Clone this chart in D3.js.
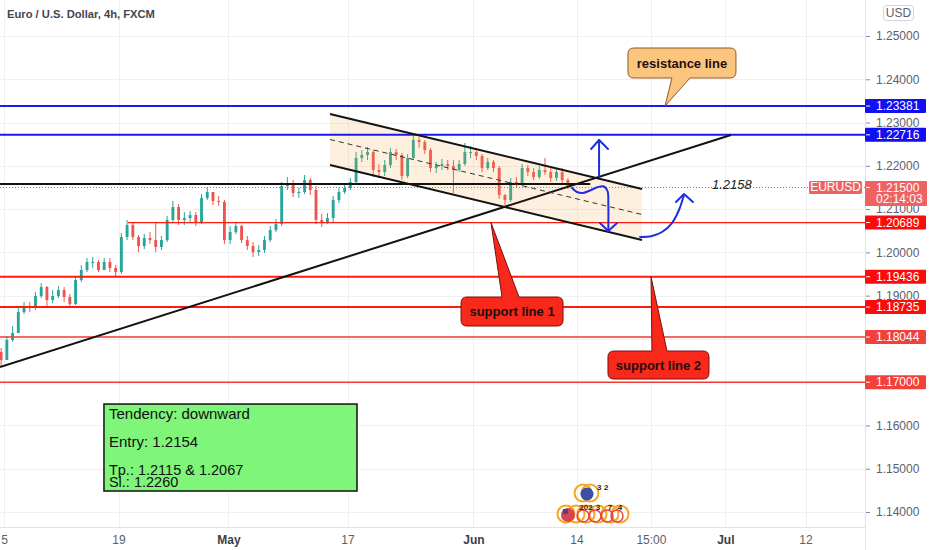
<!DOCTYPE html>
<html><head><meta charset="utf-8">
<script src="https://cdn.jsdelivr.net/npm/d3@7/dist/d3.min.js"></script>
<style>html,body{margin:0;padding:0;background:#fff;} svg{display:block;font-family:"Liberation Sans",Arial,sans-serif;}</style>
</head><body>
<svg id="c" width="932" height="550"></svg>
<script>
// ---------------- DATA ----------------
const title = "Euro / U.S. Dollar, 4h, FXCM";
const firstOpen = 1.17697;
// half-day bars, day index counted in trading days from Apr 5
const barStartDay = -0.25, barStepDay = 0.5;
const closes = [1.17512,1.17974,1.18136,1.18621,1.18737,1.18714,1.18991,1.19199,1.18899,1.18991,
1.19130,1.18968,1.18806,1.19361,1.19592,1.19777,1.19777,1.19592,1.19777,1.19638,
1.19546,1.20355,1.20632,1.20355,1.20147,1.20332,1.20285,1.20124,1.20285,1.20748,
1.21048,1.20748,1.20794,1.20863,1.20701,1.21256,1.21395,1.21187,1.21164,1.20285,
1.20470,1.20609,1.20285,1.20147,1.20008,1.20054,1.20285,1.20516,1.20655,1.21533,
1.21603,1.21372,1.21395,1.21672,1.21441,1.20748,1.20701,1.20794,1.21210,1.21395,
1.21487,1.21626,1.22180,1.22250,1.22319,1.21903,1.21857,1.22019,1.22319,1.22250,
1.21764,1.22180,1.22596,1.22550,1.22365,1.21949,1.21996,1.22042,1.21996,1.21903,
1.22042,1.22319,1.22319,1.22227,1.21949,1.22088,1.21949,1.21325,1.21210,1.21626,
1.21603,1.21949,1.21857,1.21741,1.21903,1.21857,1.21718,1.21857,1.21672,1.21500];
const highs = [1.17789,1.18067,1.18298,1.18714,1.18853,1.18853,1.19084,1.19292,1.19222,1.19130,
1.19222,1.19199,1.19037,1.19453,1.19708,1.19869,1.19893,1.19823,1.19869,1.19869,
1.19708,1.20447,1.20748,1.20701,1.20401,1.20424,1.20470,1.20678,1.20378,1.20840,
1.21187,1.21117,1.20933,1.20956,1.20933,1.21349,1.21510,1.21372,1.21302,1.21210,
1.20609,1.20701,1.20632,1.20378,1.20239,1.20170,1.20378,1.20609,1.20771,1.21626,
1.21741,1.21672,1.21487,1.21788,1.21718,1.21533,1.20886,1.20909,1.21302,1.21487,
1.21580,1.21718,1.22319,1.22365,1.22435,1.22365,1.22042,1.22134,1.22412,1.22388,
1.22296,1.22273,1.22689,1.22666,1.22596,1.22412,1.22088,1.22157,1.22134,1.22134,
1.22134,1.22527,1.22458,1.22412,1.22273,1.22180,1.22134,1.21996,1.21349,1.21718,
1.21741,1.22042,1.22019,1.21949,1.21996,1.22180,1.21949,1.21949,1.21949,1.21718];
const lows = [1.17373,1.17697,1.17928,1.18136,1.18575,1.18621,1.18668,1.18945,1.18737,1.18829,
1.18945,1.18853,1.18737,1.18783,1.19315,1.19546,1.19638,1.19546,1.19592,1.19546,
1.19453,1.19500,1.20285,1.20285,1.20008,1.20077,1.20193,1.20008,1.20054,1.20239,
1.20701,1.20632,1.20632,1.20701,1.20609,1.20655,1.21210,1.21094,1.21071,1.20193,
1.20193,1.20424,1.20216,1.20054,1.19893,1.19916,1.19985,1.20239,1.20470,1.20609,
1.21441,1.21279,1.21256,1.21349,1.21325,1.20655,1.20586,1.20655,1.20701,1.21141,
1.21349,1.21441,1.21580,1.22088,1.22134,1.21741,1.21718,1.21764,1.21949,1.22134,
1.21672,1.21718,1.22134,1.22412,1.22273,1.21857,1.21834,1.21903,1.21903,1.21372,
1.21857,1.21996,1.22180,1.22134,1.21857,1.21903,1.21857,1.21233,1.21094,1.21164,
1.21510,1.21533,1.21764,1.21672,1.21695,1.21788,1.21626,1.21649,1.21603,1.21464];

const priceTicks = [1.14,1.15,1.16,1.17,1.18,1.19,1.20,1.21,1.22,1.23,1.24,1.25];
const timeTickDays = [0,10,19.6,30,41,50,56.5,63,70];
const timeTickLabels = ["5","19","May","17","Jun","14","15:00","Jul","12"];
const monthLabels = ["May","Jun","Jul"];

const currentPrice = 1.21500;
const countdown = "02:14:03";
const symbolName = "EURUSD";
const levelPrices = [1.23381,1.22716,1.20689,1.19436,1.18735,1.18044,1.17000];
const levelStartDays = [-1,-1,10.83,-1,-1,-1,-1];

// drawings, in (trading day, price)
const trendLine = [[-0.35,1.17350],[63.49,1.22712]];
const markLine = [[-0.35,1.2158],[51.2,1.2158]];
const markLabel = {day:61.83, price:1.2158, text:"1.2158"};
const channelUpper = [[28.47,1.23197],[55.72,1.21464]];
const channelLower = [[28.47,1.22019],[55.72,1.20285]];
const upShaft = [[51.97,1.21765],[51.97,1.22597]];
const upHead = [[51.27,1.22389],[51.97,1.22597],[52.75,1.22389]];
const downCurve = [[49.61,1.21487],[50.04,1.21395],[50.57,1.21372],[51.27,1.21441],[51.88,1.21510],[52.40,1.21522],[52.71,1.21418],[52.78,1.21094],[52.78,1.20493]];
const downHead = [[52.05,1.20678],[52.78,1.20493],[53.54,1.20678]];
const rightCurve = [[55.55,1.20355],[56.59,1.20378],[57.47,1.20470],[58.34,1.20678],[58.95,1.20979],[59.39,1.21325]];
const rightHead = [[58.69,1.21164],[59.39,1.21349],[60.17,1.21164]];

const calloutTexts = ["resistance line","support line 1","support line 2"];
const calloutCenters = [[59.21,1.24376],[44.37,1.18633],[57.16,1.17397]];
const calloutTips = [[57.73,1.23381],[42.53,1.20689],[56.51,1.19436]];

const noteLines = ["Tendency: downward","Entry: 1.2154","Tp.: 1.2115 & 1.2067","Sl.: 1.2260"];
const noteCorners = [[8.73,1.16495],[30.83,1.14485]];

const eventRow1Days = [50.57,51.18];
const eventRow1Labels = ["3","2"];
const eventRow2Days = [48.73,49.61,50.48,51.53,52.58,53.45];
const eventRow2Labels = ["","","202","3","7","4"];

// ---------------- STYLE ----------------
const W = 932, H = 550, plotR = 865, plotB = 527;
const upColor = "#26a69a", downColor = "#ef5350";
const levelStyle = [
  {c:"#1a1aef", w:2}, {c:"#1a1aef", w:2}, {c:"#ff1a10", w:1.2},
  {c:"#ff1a10", w:2}, {c:"#ff1a10", w:2}, {c:"#f23a30", w:1.5}, {c:"#f23a30", w:1.5}];
const boxColors = ["#1010f0","#1010f0","#ff0a0a","#ff0a0a","#ff0a0a","#f2413a","#f2413a"];
const blue = "#1f2fe0";

const svg = d3.select("#c");
const x = d3.scaleLinear().domain([0,70]).range([4,805.5]);
const y = d3.scaleLinear().domain([1.14,1.25]).range([512,36]);

svg.append("rect").attr("width",W).attr("height",H).attr("fill","#fff");
svg.append("defs").append("clipPath").attr("id","plot")
  .append("rect").attr("x",0).attr("y",0).attr("width",plotR).attr("height",plotB);

const plot = svg.append("g").attr("clip-path","url(#plot)");

// grid
plot.selectAll(".hg").data(priceTicks).join("line")
  .attr("x1",0).attr("x2",plotR).attr("y1",d=>Math.round(y(d))+0.5).attr("y2",d=>Math.round(y(d))+0.5)
  .attr("stroke","#eef0f4").attr("stroke-width",1);
plot.selectAll(".vg").data(timeTickDays).join("line")
  .attr("y1",0).attr("y2",plotB).attr("x1",d=>Math.round(x(d))+0.5).attr("x2",d=>Math.round(x(d))+0.5)
  .attr("stroke","#eef0f4").attr("stroke-width",1);

// candles
const candles = closes.map((c,i)=>{
  const o = i===0 ? firstOpen : closes[i-1];
  return {t: barStartDay + i*barStepDay, o, c, h: Math.max(highs[i],o,c), l: Math.min(lows[i],o,c)};
});
const bw = (x(barStepDay)-x(0))*0.5;
const cg = plot.append("g");
cg.selectAll("line").data(candles).join("line")
  .attr("x1",d=>x(d.t)).attr("x2",d=>x(d.t)).attr("y1",d=>y(d.h)).attr("y2",d=>y(d.l))
  .attr("stroke",d=>d.c>=d.o?upColor:downColor).attr("stroke-width",1);
cg.selectAll("rect").data(candles).join("rect")
  .attr("x",d=>x(d.t)-bw/2).attr("width",bw)
  .attr("y",d=>y(Math.max(d.o,d.c))).attr("height",d=>Math.max(1,Math.abs(y(d.o)-y(d.c))))
  .attr("fill",d=>d.c>=d.o?upColor:downColor);

// current price dotted line
plot.append("line").attr("x1",0).attr("x2",plotR).attr("y1",y(currentPrice)).attr("y2",y(currentPrice))
  .attr("stroke","#ef5350").attr("stroke-width",1).attr("stroke-dasharray","1,2");

// channel fill
const P = d=>[x(d[0]),y(d[1])];
const chPoly = [P(channelUpper[0]),P(channelUpper[1]),P(channelLower[1]),P(channelLower[0])];
plot.append("polygon").attr("points",chPoly.map(p=>p.join(",")).join(" "))
  .attr("fill","rgba(245,166,60,0.17)");

// horizontal levels
levelPrices.forEach((p,i)=>{
  plot.append("line").attr("x1",x(levelStartDays[i])).attr("x2",plotR)
    .attr("y1",y(p)).attr("y2",y(p)).attr("stroke",levelStyle[i].c).attr("stroke-width",levelStyle[i].w);
});

const lineGen = d3.line().x(d=>x(d[0])).y(d=>y(d[1]));
// black lines
plot.append("path").attr("d",lineGen(markLine)).attr("stroke","#131313").attr("stroke-width",1.8).attr("fill","none");
plot.append("path").attr("d",lineGen(trendLine)).attr("stroke","#131313").attr("stroke-width",2).attr("fill","none");
plot.append("path").attr("d",lineGen(channelUpper)).attr("stroke","#131313").attr("stroke-width",2).attr("fill","none");
plot.append("path").attr("d",lineGen(channelLower)).attr("stroke","#131313").attr("stroke-width",2).attr("fill","none");
const mid = [[channelUpper[0][0],(channelUpper[0][1]+channelLower[0][1])/2],[channelUpper[1][0],(channelUpper[1][1]+channelLower[1][1])/2]];
plot.append("path").attr("d",lineGen(mid)).attr("stroke","#333").attr("stroke-width",1).attr("stroke-dasharray","5,4").attr("fill","none");

// blue arrows
const curveGen = d3.line().x(d=>x(d[0])).y(d=>y(d[1])).curve(d3.curveCatmullRom);
[upShaft, upHead, downHead, rightHead].forEach(a=>{
  plot.append("path").attr("d",lineGen(a)).attr("stroke",blue).attr("stroke-width",2).attr("fill","none").attr("stroke-linejoin","round").attr("stroke-linecap","round");
});
[downCurve, rightCurve].forEach(a=>{
  plot.append("path").attr("d",curveGen(a)).attr("stroke",blue).attr("stroke-width",2).attr("fill","none").attr("stroke-linecap","round");
});

// mark label
plot.append("text").attr("x",x(markLabel.day)).attr("y",y(markLabel.price)+5)
  .attr("font-size",13).attr("font-style","italic").attr("fill","#222").text(markLabel.text);

// callouts
const calloutStyle = [
  {fill:"#fcc57f", stroke:"#8c5a22", w:108, h:30, side:"bottom", b0:-10, b1:8},
  {fill:"#f8281b", stroke:"#7a1010", w:102, h:29, side:"top", b0:-10, b1:7},
  {fill:"#f8281b", stroke:"#7a1010", w:101, h:28, side:"top", b0:-6.5, b1:8.5}];
function calloutPath(cx,cy,s,tx,ty){
  const r=6, x0=cx-s.w/2, x1=cx+s.w/2, y0=cy-s.h/2, y1=cy+s.h/2;
  if(s.side==="bottom"){
    return `M${x0+r},${y0}H${x1-r}Q${x1},${y0} ${x1},${y0+r}V${y1-r}Q${x1},${y1} ${x1-r},${y1}H${cx+s.b1}L${tx},${ty}L${cx+s.b0},${y1}H${x0+r}Q${x0},${y1} ${x0},${y1-r}V${y0+r}Q${x0},${y0} ${x0+r},${y0}Z`;
  }
  return `M${x0+r},${y0}H${cx+s.b0}L${tx},${ty}L${cx+s.b1},${y0}H${x1-r}Q${x1},${y0} ${x1},${y0+r}V${y1-r}Q${x1},${y1} ${x1-r},${y1}H${x0+r}Q${x0},${y1} ${x0},${y1-r}V${y0+r}Q${x0},${y0} ${x0+r},${y0}Z`;
}
calloutTexts.forEach((t,i)=>{
  const s = calloutStyle[i];
  const cx = x(calloutCenters[i][0]), cy = y(calloutCenters[i][1]);
  plot.append("path").attr("d",calloutPath(cx,cy,s,x(calloutTips[i][0]),y(calloutTips[i][1])))
    .attr("fill",s.fill).attr("stroke",s.stroke).attr("stroke-width",1);
  plot.append("text").attr("x",cx).attr("y",cy+4.5).attr("text-anchor","middle")
    .attr("font-size",13).attr("font-weight","bold").attr("fill","#1c1010").text(t);
});

// note box
const nx0 = x(noteCorners[0][0]), ny0 = y(noteCorners[0][1]), nx1 = x(noteCorners[1][0]), ny1 = y(noteCorners[1][1]);
plot.append("rect").attr("x",nx0).attr("y",ny0).attr("width",nx1-nx0).attr("height",ny1-ny0)
  .attr("fill","#7ff57a").attr("stroke","#111").attr("stroke-width",1.5);
const noteOffsets = [15,43,70.5,83];
const noteSizes = [15,15,14.5,14.5];
noteLines.forEach((t,i)=>{
  plot.append("text").attr("x",nx0+5).attr("y",ny0+noteOffsets[i]).attr("font-size",noteSizes[i]).attr("fill","#111").text(t);
});

// event icons
const eg = plot.append("g");
const r1y = 493, r2y = 514;
eventRow1Days.forEach((d,i)=>{
  eg.append("circle").attr("cx",x(d)).attr("cy",r1y).attr("r",8.5).attr("fill","none").attr("stroke","#f5a623").attr("stroke-width",2);
});
eg.append("circle").attr("cx",x(eventRow1Days[0])+4).attr("cy",r1y+1).attr("r",6.5).attr("fill","#3b4ea8");
eventRow1Labels.forEach((l,i)=>{
  eg.append("text").attr("x",x(eventRow1Days[i])+14).attr("y",r1y-3).attr("font-size",8).attr("font-weight","bold").attr("fill","#222").text(l);
});
eventRow2Days.forEach((d,i)=>{
  eg.append("circle").attr("cx",x(d)+4).attr("cy",r2y).attr("r",8.5).attr("fill","none").attr("stroke","#f5a623").attr("stroke-width",2);
});
eventRow2Days.slice(2).forEach((d,i)=>{
  eg.append("circle").attr("cx",x(d)+1).attr("cy",r2y+2).attr("r",6).attr("fill","none").attr("stroke","#e8464a").attr("stroke-width",1.5);
});
eg.append("circle").attr("cx",x(eventRow2Days[0])+6).attr("cy",r2y+1).attr("r",7).attr("fill","#d8454a");
eg.append("rect").attr("x",x(eventRow2Days[0])+1).attr("y",r2y-5).attr("width",5).attr("height",5).attr("fill","#3c4a9e");
eventRow2Labels.forEach((l,i)=>{
  eg.append("text").attr("x",x(eventRow2Days[i])+4).attr("y",r2y-4).attr("text-anchor","middle").attr("font-size",8).attr("font-weight","bold").attr("fill","#222").text(l);
});

// ---------------- AXES ----------------
svg.append("line").attr("x1",plotR+0.5).attr("x2",plotR+0.5).attr("y1",0).attr("y2",H).attr("stroke","#e0e3eb");
svg.append("line").attr("x1",0).attr("x2",plotR).attr("y1",plotB+0.5).attr("y2",plotB+0.5).attr("stroke","#e0e3eb");

// tick labels hidden where a price box fully covers them (as the platform does)
const hiddenTicks = priceTicks.filter(t=>levelPrices.some(p=>Math.abs(y(p)-y(t))<6));
const yAxis = d3.axisRight(y).tickValues(priceTicks.filter(t=>!hiddenTicks.includes(t))).tickFormat(d3.format(".5f")).tickSize(4).tickPadding(6);
const ya = svg.append("g").attr("transform",`translate(${plotR+1},0)`).call(yAxis);
ya.select(".domain").remove();
ya.selectAll("line").attr("stroke","#8a8d96");
ya.selectAll("text").attr("font-size",12).attr("fill","#5d606b").attr("font-family","Liberation Sans, Arial, sans-serif");

const xAxis = d3.axisBottom(x).tickValues(timeTickDays).tickFormat((d,i)=>timeTickLabels[i]).tickSize(0).tickPadding(8);
const xa = svg.append("g").attr("transform",`translate(0,${plotB})`).call(xAxis);
xa.select(".domain").remove();
xa.selectAll("text").attr("font-size",12).attr("font-family","Liberation Sans, Arial, sans-serif")
  .attr("fill",(d,i)=>monthLabels.includes(timeTickLabels[i])?"#3a3d47":"#5d606b")
  .attr("font-weight",(d,i)=>monthLabels.includes(timeTickLabels[i])?"bold":"normal");

// price boxes
levelPrices.forEach((p,i)=>{
  const cy = y(p);
  svg.append("rect").attr("x",plotR).attr("y",cy-7).attr("width",61).attr("height",14).attr("fill",boxColors[i]).attr("rx",1);
  svg.append("line").attr("x1",plotR+1).attr("x2",plotR+5).attr("y1",cy).attr("y2",cy).attr("stroke","#fff");
  svg.append("text").attr("x",plotR+11).attr("y",cy+4.3).attr("font-size",12).attr("fill","#fff").text(d3.format(".5f")(p));
});
// current price box
const cpy = y(currentPrice);
svg.append("rect").attr("x",plotR).attr("y",cpy-6.5).attr("width",62).attr("height",25).attr("fill","#f06262").attr("rx",1);
svg.append("line").attr("x1",plotR+1).attr("x2",plotR+5).attr("y1",cpy).attr("y2",cpy).attr("stroke","#fff");
svg.append("text").attr("x",plotR+11).attr("y",cpy+4.3).attr("font-size",12).attr("fill","#fff").text(d3.format(".5f")(currentPrice));
svg.append("text").attr("x",plotR+11).attr("y",cpy+16).attr("font-size",12).attr("fill","#fff").text(countdown);
svg.append("rect").attr("x",809).attr("y",cpy-6.5).attr("width",53).attr("height",13).attr("fill","#ef6262").attr("rx",1.5);
svg.append("text").attr("x",835.5).attr("y",cpy+4).attr("text-anchor","middle").attr("font-size",12).attr("fill","#fff").text(symbolName);

// USD box
svg.append("rect").attr("x",883.5).attr("y",5.5).attr("width",30).attr("height",15).attr("rx",3).attr("fill","#fff").attr("stroke","#d1d4dc");
svg.append("text").attr("x",898.5).attr("y",17).attr("text-anchor","middle").attr("font-size",12).attr("fill","#5d606b").text("USD");

// title
svg.append("text").attr("x",7).attr("y",18).attr("font-size",11.2).attr("font-weight","bold").attr("fill","#434651").text(title);
</script>
</body></html>
